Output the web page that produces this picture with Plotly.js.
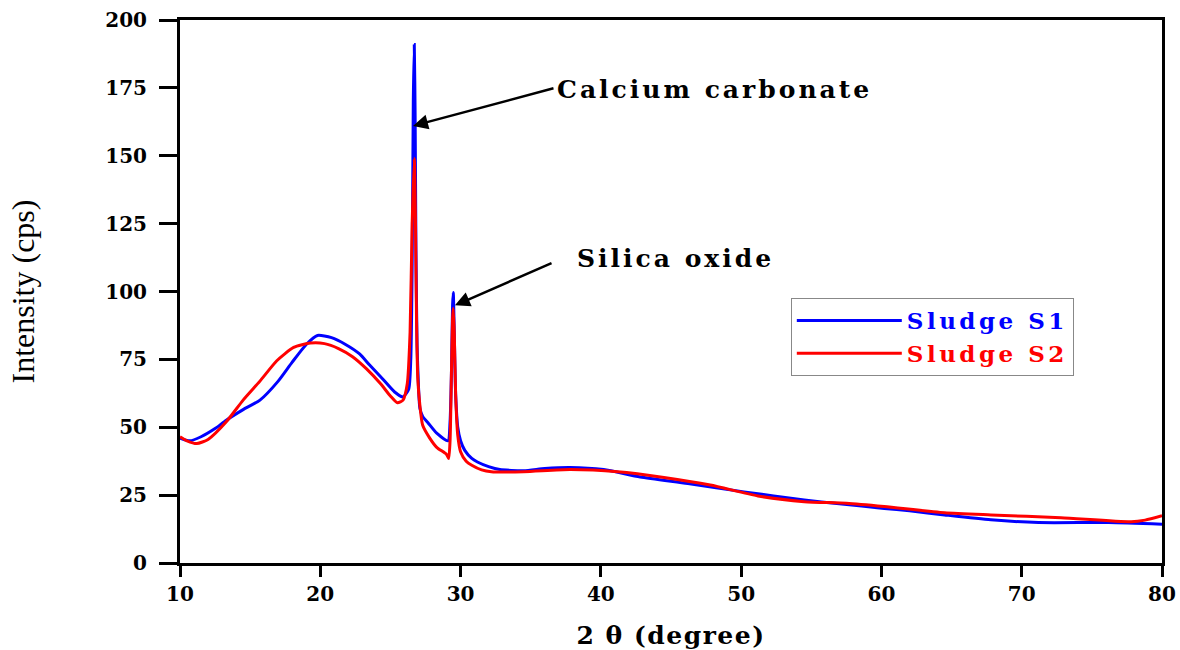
<!DOCTYPE html>
<html>
<head>
<meta charset="utf-8">
<script src="https://cdn.plot.ly/plotly-3.0.1.min.js"></script>
<style>
html,body{margin:0;padding:0;background:#fff;}
#chart{width:1180px;height:650px;}
text.annotation-text{letter-spacing:3px;}
text.legendtext{letter-spacing:3.5px;}
text.xtitle{letter-spacing:1.5px;}
</style>
</head>
<body>
<div id="chart"></div>
<script>
// Sludge S1 (blue)
const s1Angle = [10, 10.7, 11.5, 12.5, 13.3, 14.5, 15.7, 17, 18, 19, 19.8, 20.8, 21.8, 22.8, 23.5, 24.5, 25.3, 25.9, 26.3, 26.45, 26.55, 26.63, 26.7, 26.76, 26.82, 26.9, 27.0, 27.1, 27.3, 27.7, 28.3, 29.1, 29.25, 29.35, 29.43, 29.48, 29.55, 29.65, 29.8, 30.0, 30.3, 30.8, 31.2, 32.0, 32.8, 34.5, 36, 37.8, 40.2, 42.8, 46.2, 50.2, 54.5, 57, 60.2, 62, 64.5, 67.8, 71.2, 76.2, 80];
const s1Intensity = [46, 45, 46.5, 49.5, 52.6, 56.5, 60, 67, 74, 80.5, 83.8, 83, 80.5, 77, 73, 67.5, 63, 61.2, 64, 75, 110, 170, 191, 165, 115, 80, 65, 57, 54, 51.5, 47.8, 45, 52, 70, 95, 99.6, 85, 62, 50, 45, 41.5, 38.5, 37.2, 35.5, 34.4, 34, 34.8, 35.2, 34.4, 31.7, 29.3, 26.2, 23.2, 21.8, 20.1, 19.2, 17.7, 15.9, 14.9, 14.9, 14.3];

// Sludge S2 (red)
const s2Angle = [10, 10.5, 11.2, 12, 13.3, 14.5, 15.7, 16.9, 18.1, 19.3, 20.3, 21.3, 22.3, 23.3, 24.3, 25.0, 25.5, 25.9, 26.2, 26.4, 26.55, 26.7, 26.78, 26.86, 26.95, 27.1, 27.3, 27.8, 28.3, 29.0, 29.15, 29.25, 29.35, 29.43, 29.48, 29.55, 29.65, 29.8, 30.0, 30.4, 30.8, 31.5, 32.2, 34.5, 37.8, 41.2, 44.5, 47.8, 51.2, 54.5, 57.5, 60.2, 64.5, 67.8, 72.8, 77.8, 78.8, 80];
const s2Intensity = [46.5, 45, 44, 45.5, 52, 60, 67, 74.5, 79.4, 81, 80.8, 79, 76, 71.5, 66, 61.5, 59, 60, 66, 85, 125, 149, 128, 90, 68, 58, 50.7, 46, 42.6, 40, 38.5, 45, 70, 90, 93.8, 85, 62, 47, 41, 37.5, 36, 34.3, 33.6, 33.6, 34.4, 33.6, 31.5, 28.7, 24.7, 22.6, 22, 20.8, 18.5, 17.7, 16.7, 15.2, 15.8, 17.4];

const xTicks = [10, 20, 30, 40, 50, 60, 70, 80];
const yTicks = [0, 25, 50, 75, 100, 125, 150, 175, 200];

// Labels and arrow endpoints (data coordinates)
const labelTexts = ['Calcium carbonate', 'Silica oxide'];
const labelPos = [[36.73, 174.5], [38.15, 112]];
const arrowTips = [[26.61, 161], [29.6, 94.9]];
const arrowTails = [[36.73, 175], [36.59, 110.7]];

const traces = [
  {x: s1Angle, y: s1Intensity, type: 'scatter', mode: 'lines',
   name: '<span style="color:#0000ff">Sludge S1</span>',
   line: {color: '#0000ff', width: 3, shape: 'spline', smoothing: 0.6}},
  {x: s2Angle, y: s2Intensity, type: 'scatter', mode: 'lines',
   name: '<span style="color:#ff0000">Sludge S2</span>',
   line: {color: '#ff0000', width: 3, shape: 'spline', smoothing: 0.6}}
];

const annotations = [];
labelTexts.forEach((t, i) => {
  annotations.push({x: labelPos[i][0], y: labelPos[i][1], xref: 'x', yref: 'y',
    text: t, showarrow: false, xanchor: 'left', yanchor: 'middle',
    font: {family: 'DejaVu Serif', weight: 'bold', size: 25, color: '#000'}});
  annotations.push({x: arrowTips[i][0], y: arrowTips[i][1], xref: 'x', yref: 'y',
    ax: arrowTails[i][0], ay: arrowTails[i][1], axref: 'x', ayref: 'y',
    text: '', showarrow: true, arrowhead: 2, arrowsize: 1.2, arrowwidth: 2.5,
    arrowcolor: '#000', standoff: 0, startstandoff: 0});
});

const layout = {
  width: 1180, height: 650,
  margin: {l: 180, r: 18, t: 20, b: 87},
  paper_bgcolor: '#fff', plot_bgcolor: '#fff',
  showlegend: true,
  legend: {x: 0.622, y: 0.488, xanchor: 'left', yanchor: 'top',
    bgcolor: '#fff', bordercolor: '#888', borderwidth: 1,
    font: {family: 'DejaVu Serif', weight: 'bold', size: 23},
    itemwidth: 105, tracegroupgap: 0},
  xaxis: {range: [10, 80], tickvals: xTicks, ticktext: xTicks.map(String),
    showgrid: false, zeroline: false, showline: true, mirror: true,
    linecolor: '#000', linewidth: 3, ticks: 'outside', ticklen: 11, tickwidth: 3,
    tickcolor: '#000',
    tickfont: {family: 'DejaVu Serif', weight: 'bold', size: 20, color: '#000'},
    title: {text: '2 θ (degree)', standoff: 30,
      font: {family: 'DejaVu Serif', weight: 'bold', size: 25, color: '#000'}}},
  yaxis: {range: [0, 200], tickvals: yTicks, ticktext: yTicks.map(String),
    showgrid: false, zeroline: false, showline: true, mirror: true,
    linecolor: '#000', linewidth: 3, ticks: 'outside', ticklen: 18, tickwidth: 3,
    tickcolor: '#000', ticklabelstandoff: 8,
    tickfont: {family: 'DejaVu Serif', weight: 'bold', size: 20, color: '#000'},
    title: {text: 'Intensity (cps)', standoff: 62,
      font: {family: 'Liberation Serif', size: 32, color: '#000'}}},
  annotations: annotations
};

Plotly.newPlot('chart', traces, layout, {displayModeBar: false, staticPlot: true});
</script>
</body>
</html>
